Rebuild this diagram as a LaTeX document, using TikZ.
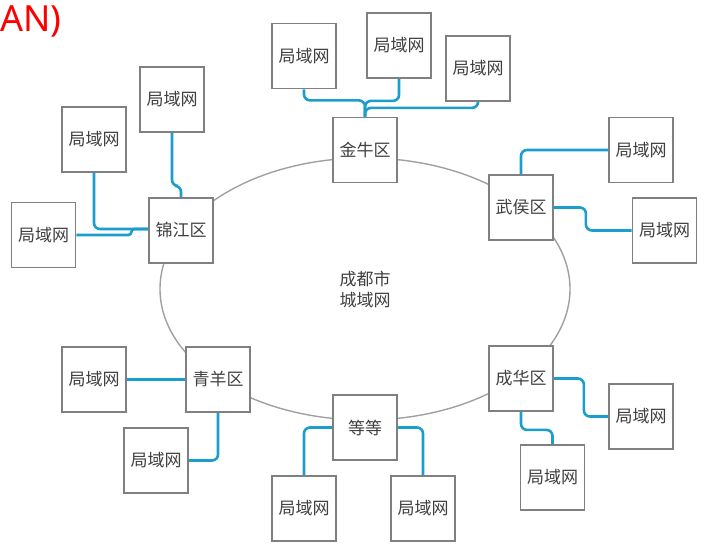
\documentclass[tikz,border=0pt]{standalone}
\usepackage{fontspec}
\newfontfamily\cjk{Noto Sans CJK SC}
\newfontfamily\latinsans{Noto Sans}
\definecolor{boxline}{RGB}{128,128,128}
\definecolor{txt}{RGB}{64,64,64}
\definecolor{linkblue}{RGB}{27,158,206}
\definecolor{ringgray}{RGB}{160,160,160}
\tikzset{
  netbox/.style={draw=boxline, line width=1.8pt, fill=white, minimum width=64pt, minimum height=65pt, inner sep=0pt, text=txt, font=\cjk\fontsize{17}{21}\selectfont},
  link/.style={draw=linkblue, line width=2.6pt, rounded corners=6pt},
}
\begin{document}
\begin{tikzpicture}[x=1pt,y=-1pt]
\useasboundingbox (0,0) rectangle (709,554);
\draw[ringgray, line width=1.4pt] (365,289) ellipse [x radius=205pt, y radius=131pt];
\node[text=red, font=\latinsans\fontsize{36}{40}\selectfont, anchor=west, inner sep=0pt] (title) at (0,21) {AN)};
\node[text=txt, font=\cjk\fontsize{17}{21}\selectfont, align=center] (city) at (365,289) {成都市\\城域网};
% Jinniu
\node[netbox] (jn) at (365,150) {金牛区};
\node[netbox] (jn1) at (304,56) {局域网};
\node[netbox] (jn2) at (399,45.5) {局域网};
\node[netbox] (jn3) at (478,68.5) {局域网};
% Jinjiang
\node[netbox] (jj) at (181,230.5) {锦江区};
\node[netbox] (jjt) at (172,99.5) {局域网};
\node[netbox] (jjm) at (94,139.5) {局域网};
\node[netbox] (jjl) at (43.5,235) {局域网};
% Wuhou
\node[netbox] (wh) at (521,207.5) {武侯区};
\node[netbox] (wht) at (641,150) {局域网};
\node[netbox] (whb) at (664.5,230.5) {局域网};
% Chenghua
\node[netbox] (ch) at (521,378.5) {成华区};
\node[netbox] (chr) at (641,416.5) {局域网};
\node[netbox] (chb) at (552.5,477.5) {局域网};
% Dengdeng
\node[netbox] (dd) at (365,427.5) {等等};
\node[netbox] (ddl) at (304,508.5) {局域网};
\node[netbox] (ddr) at (423,508.5) {局域网};
% Qingyang
\node[netbox] (qy) at (218,379.5) {青羊区};
\node[netbox] (qyl) at (94,379.5) {局域网};
\node[netbox] (qyb) at (156,460.5) {局域网};
% connectors
\draw[link] (jn1.south) -- ++(0,11) -| (jn.north);
\draw[link] (jn2.south) -- ++(0,22) -| (jn.north);
\draw[link] (jn3.south) -- ++(0,6) -| (jn.north);
\draw[link] (jjt.south) -- ++(0,53) -| (jj.north);
\draw[link] (jjm.south) |- ([yshift=1.5pt]jj.west);
\draw[link, rounded corners=3pt] (jjl.east) -- ++(55,0) |- ([yshift=1.5pt]jj.west);
\draw[link] (wh.north) |- (wht.west);
\draw[link] (wh.east) -- ++(32,0) |- (whb.west);
\draw[link] (ch.east) -- ++(30,0) |- (chr.west);
\draw[link] (ch.south) -- ++(0,18) -| (chb.north);
\draw[link] (dd.west) -| (ddl.north);
\draw[link] (dd.east) -| (ddr.north);
\draw[link] (qyl.east) -- (qy.west);
\draw[link] (qy.south) |- (qyb.east);
\end{tikzpicture}
\end{document}
